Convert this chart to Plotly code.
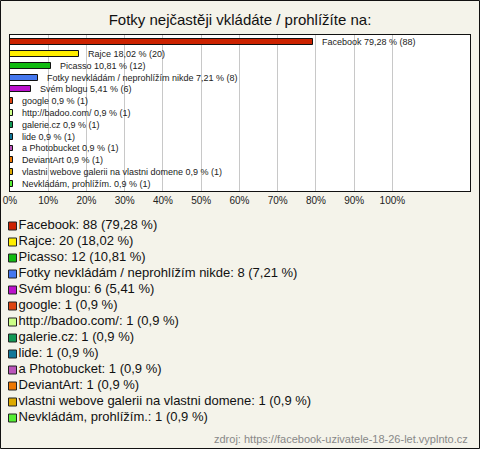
import plotly.graph_objects as go

title = "Fotky nejčastěji vkládáte / prohlížíte na:"
source = "zdroj: https://facebook-uzivatele-18-26-let.vyplnto.cz"
labels = ["Facebook", "Rajce", "Picasso", "Fotky nevkládám / neprohlížím nikde", "Svém blogu",
          "google", "http://badoo.com/", "galerie.cz", "lide", "a Photobucket", "DeviantArt",
          "vlastni webove galerii na vlastni domene", "Nevkládám, prohlížím."]
counts = [88, 20, 12, 8, 6, 1, 1, 1, 1, 1, 1, 1, 1]
percents = [79.28, 18.02, 10.81, 7.21, 5.41, 0.9, 0.9, 0.9, 0.9, 0.9, 0.9, 0.9, 0.9]
colors = ["#cc2200", "#ffee00", "#11bb11", "#4477ee", "#bb11cc", "#dd4411", "#ccff88",
          "#119955", "#117799", "#bb55bb", "#ee7700", "#ddaa00", "#55ee33"]
tick_vals = [0, 10, 20, 30, 40, 50, 60, 70, 80, 90, 100]
tick_text = [f"{v}%" for v in tick_vals]

W, H = 480, 449
FONT = "Liberation Sans, Arial, sans-serif"

def fmt(p):
    return f"{p:g}".replace(".", ",")

fig = go.Figure()

# bars
fig.add_trace(go.Bar(
    x=percents, y=list(range(len(labels))), orientation="h",
    marker=dict(color=colors, line=dict(color="#111111", width=1)),
    width=0.5, showlegend=False, hoverinfo="skip",
    xaxis="x", yaxis="y"))

# bar labels
annots = []
for i, (lab, p, c) in enumerate(zip(labels, percents, counts)):
    annots.append(dict(x=p, y=i, xref="x", yref="y", text=f"{lab} {fmt(p)} % ({c})",
                       showarrow=False, xanchor="left", yanchor="middle", xshift=7,
                       font=dict(family=FONT, size=9, color="#222222")))

# manual legend
idx = list(range(len(labels)))
fig.add_trace(go.Scatter(
    x=[12.5] * len(labels), y=idx, mode="markers",
    marker=dict(symbol="square", size=8, color=colors, line=dict(color="#222222", width=1)),
    showlegend=False, hoverinfo="skip", xaxis="x2", yaxis="y2", cliponaxis=False))
fig.add_trace(go.Scatter(
    x=[18.5] * len(labels), y=idx, mode="text",
    text=[f"{lab}: {c} ({fmt(p)} %)" for lab, c, p in zip(labels, counts, percents)],
    textposition="middle right",
    textfont=dict(family=FONT, size=13, color="#111111"),
    showlegend=False, hoverinfo="skip", xaxis="x2", yaxis="y2", cliponaxis=False))

annots.append(dict(text=source, x=470 / W, y=1 - 439 / H, xref="paper", yref="paper",
                   xanchor="right", yanchor="middle", showarrow=False,
                   font=dict(family=FONT, size=11, color="#888888")))

top_px, bot_px = 35, 191
leg_top = 200
fig.update_layout(
    width=W, height=H,
    margin=dict(l=0, r=0, t=0, b=0, autoexpand=False),
    paper_bgcolor="#f4f3ea", plot_bgcolor="rgba(0,0,0,0)",
    bargap=0,
    title=dict(text=title, x=0.5, xanchor="center", y=1 - 20 / H, yanchor="middle",
               font=dict(family=FONT, size=15, color="#111111")),
    xaxis=dict(domain=[10 / W, 470 / W], range=[0, 120.3], tickvals=tick_vals, ticktext=tick_text,
               showgrid=True, gridcolor="#c8c8c8", gridwidth=1, zeroline=False,
               showline=True, linecolor="#111111", linewidth=1, mirror=True, automargin=False,
               ticks="", tickfont=dict(family=FONT, size=10, color="#222222"), fixedrange=True),
    yaxis=dict(domain=[1 - bot_px / H, 1 - top_px / H], range=[12.6, -0.6], automargin=False,
               showticklabels=False, showgrid=False, zeroline=False,
               showline=True, linecolor="#111111", linewidth=1, mirror=True, ticks=""),
    xaxis2=dict(domain=[0, 1], range=[0, W], visible=False, anchor="y2", automargin=False),
    yaxis2=dict(domain=[0, 1 - leg_top / H], range=[(H - 226) / 16, (leg_top - 226) / 16],
                visible=False, anchor="x2", automargin=False),
    annotations=annots,
    shapes=[dict(type="rect", xref="x domain", yref="y domain", x0=0, x1=1, y0=0, y1=1,
                 fillcolor="white", line=dict(width=0), layer="below"),
            dict(type="rect", xref="paper", yref="paper", x0=0.5 / W, x1=1 - 0.5 / W,
                 y0=0.5 / H, y1=1 - 0.5 / H, line=dict(color="#111111", width=1))],
)

fig.write_html("out.html", config={"displayModeBar": False},
               post_script="document.body.style.margin='0';")
